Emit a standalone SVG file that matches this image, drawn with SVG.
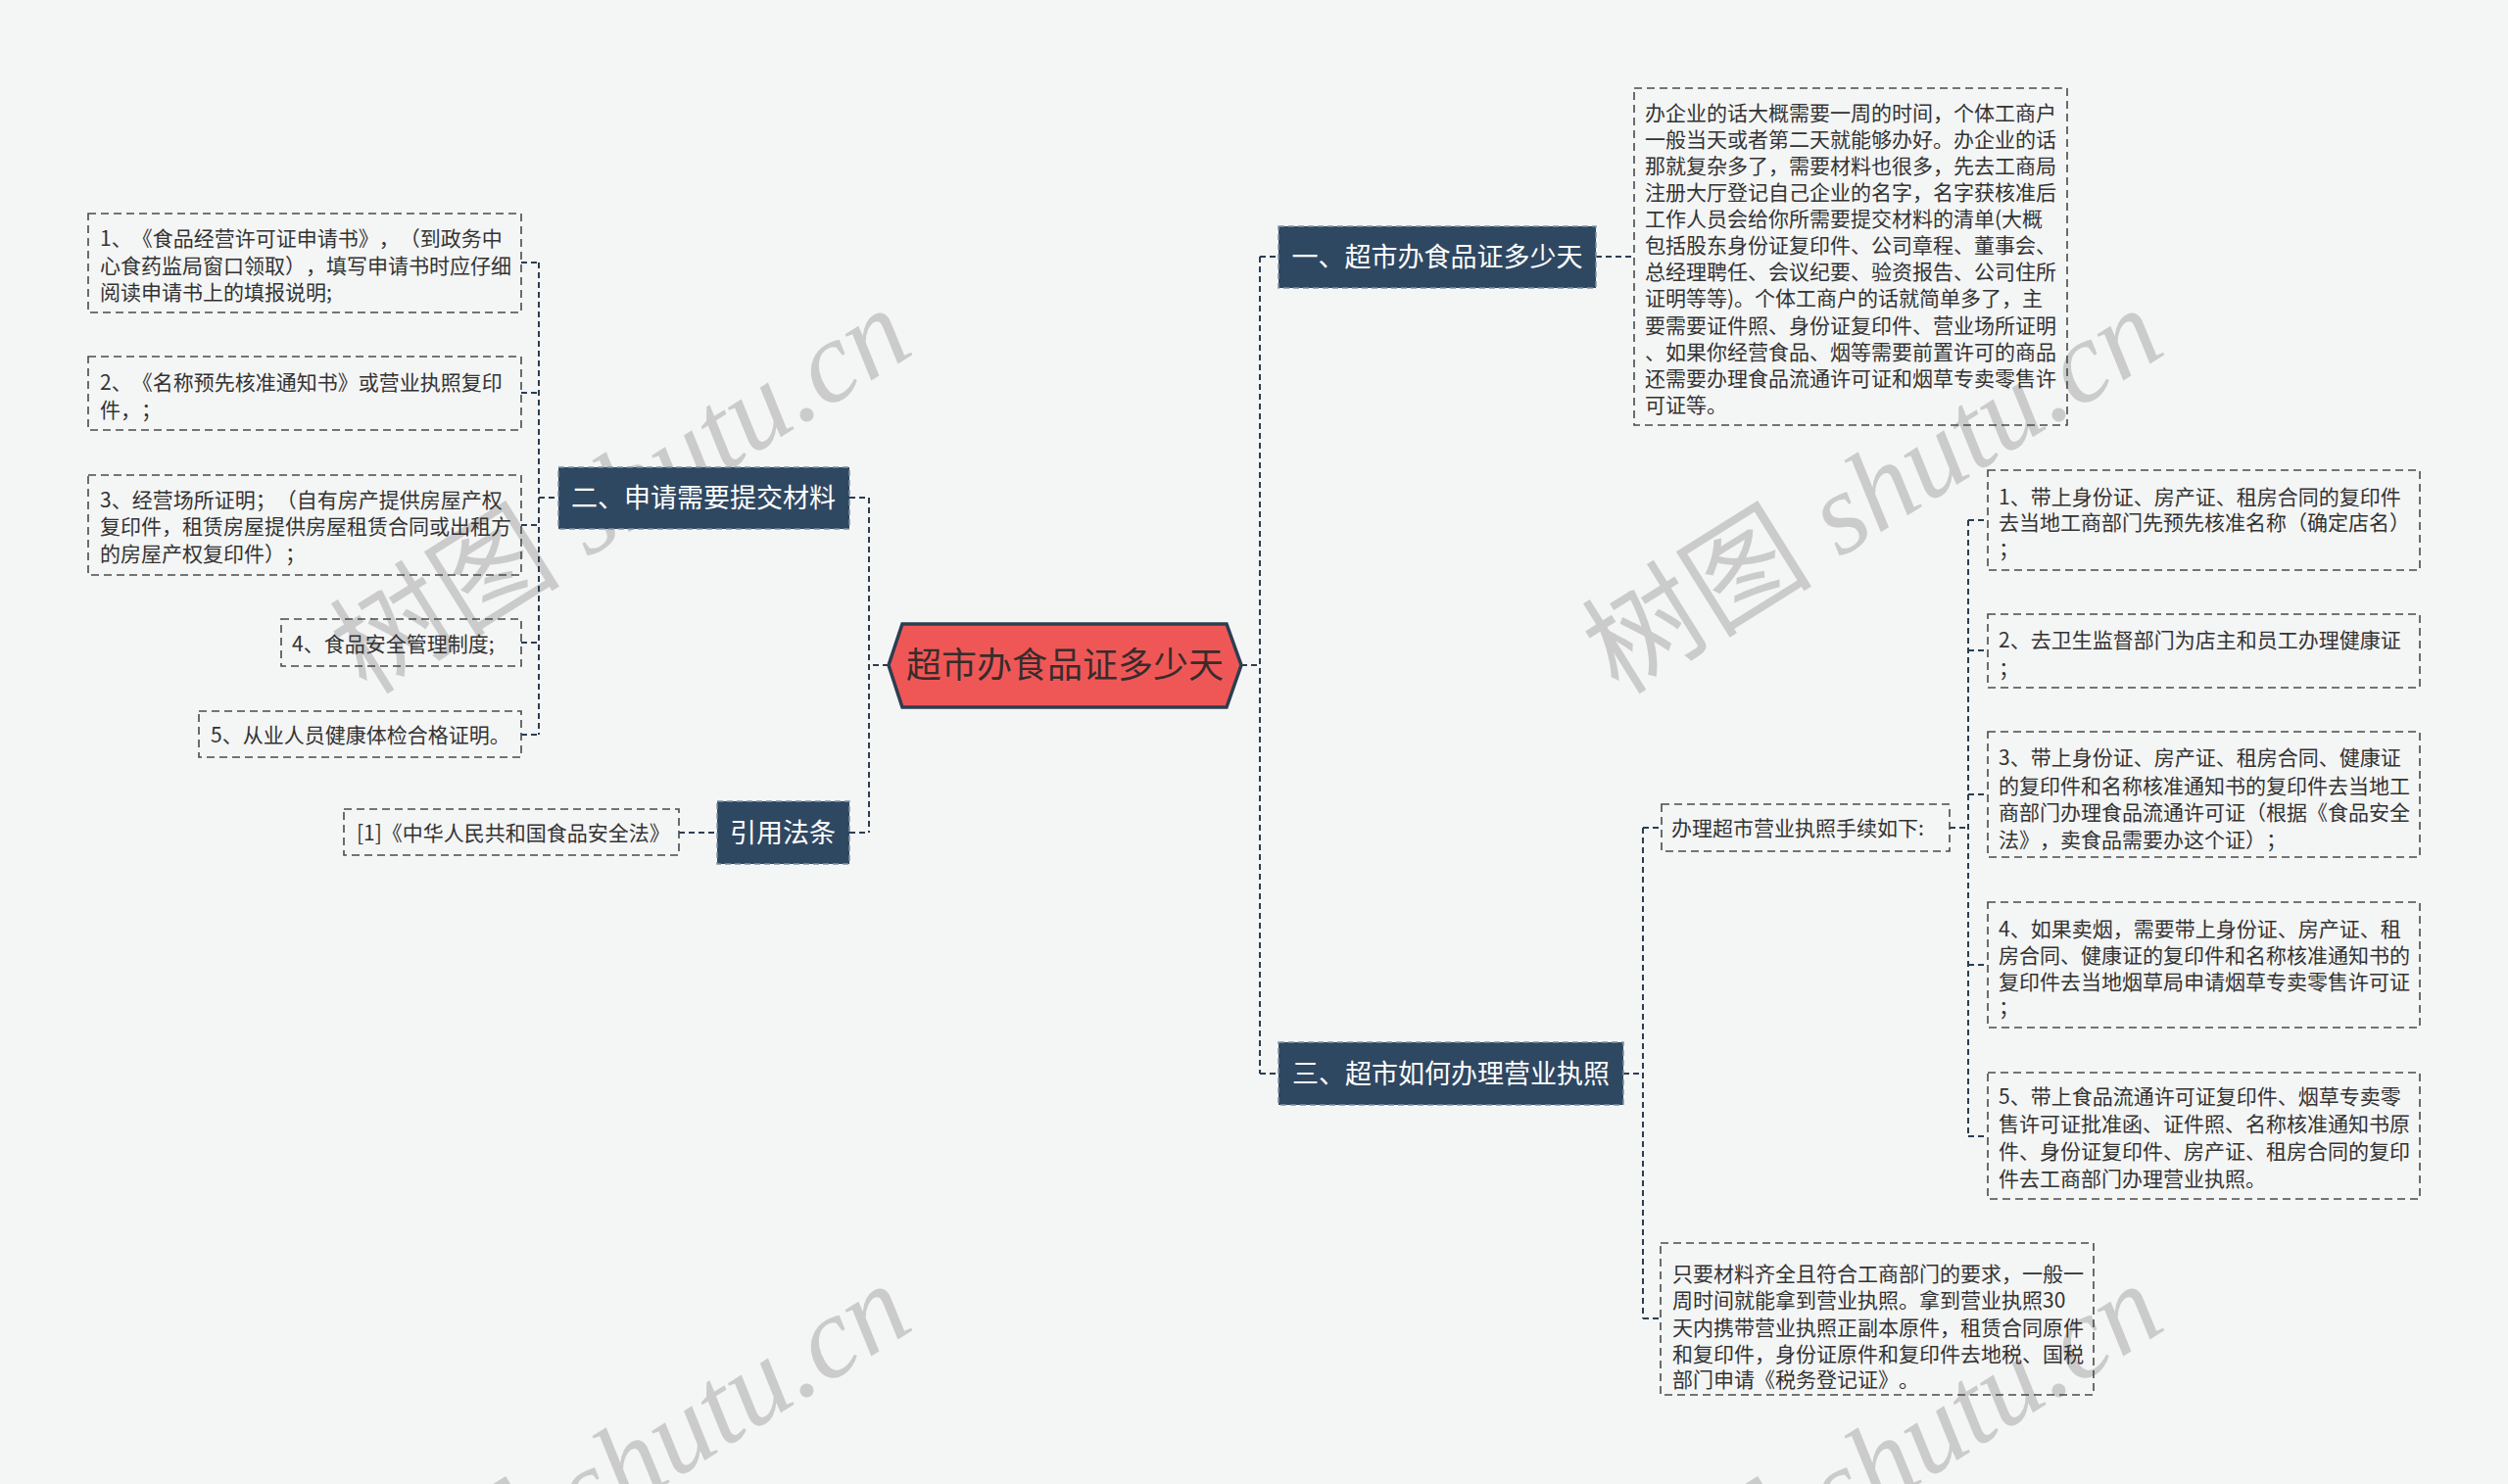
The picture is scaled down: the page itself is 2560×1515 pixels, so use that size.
<svg xmlns="http://www.w3.org/2000/svg" width="2560" height="1515" viewBox="0 0 2560 1515">
<style>
text{text-spacing-trim:space-all}
.bg{fill:#f4f5f5}
.wm{font-family:"Liberation Serif","Noto Sans CJK SC",serif;font-style:italic;font-size:118px;fill:#9a9a9a;fill-opacity:0.45}
.wmc{font-family:"Noto Sans CJK SC",sans-serif;font-style:normal}
.leaf{fill:none;stroke:#4a4a4a;stroke-width:1.6;stroke-dasharray:8 5}
.lt{font-family:"Noto Sans CJK SC","Noto Sans",sans-serif;font-size:21px;fill:#333333}
.br{fill:#2f4862;stroke:#7f91a3;stroke-width:1.5;stroke-dasharray:6 4}
.bt{font-family:"Noto Sans CJK SC","Noto Sans",sans-serif;font-size:27px;fill:#ffffff}
.root{fill:#ef5757;stroke:#2c3e50;stroke-width:3.5}
.rt{font-family:"Noto Sans CJK SC","Noto Sans",sans-serif;font-size:36px;fill:#3a2b2b}
.con{fill:none;stroke:#2c3e50;stroke-width:2;stroke-dasharray:6 4}
</style>
<rect class="bg" x="0" y="0" width="2560" height="1515"/>

<g id="watermarks">
<text class="wm" transform="translate(655,535) rotate(-32)" text-anchor="middle"><tspan class="wmc">树图</tspan> shutu.cn</text>
<text class="wm" transform="translate(1933,535) rotate(-32)" text-anchor="middle"><tspan class="wmc">树图</tspan> shutu.cn</text>
<text class="wm" transform="translate(655,1531) rotate(-32)" text-anchor="middle"><tspan class="wmc">树图</tspan> shutu.cn</text>
<text class="wm" transform="translate(1933,1531) rotate(-32)" text-anchor="middle"><tspan class="wmc">树图</tspan> shutu.cn</text>
</g>

<g id="connectors">
<path class="con" d="M907,679 H887 M887,508 V850 M867,508 H887 M867,850 H887"/>
<path class="con" d="M550,268 V750 M532,268 H550 M532,401 H550 M532,536 H550 M532,656 H550 M532,750 H550 M550,508 H570"/>
<path class="con" d="M693,850 H732"/>
<path class="con" d="M1267,679 H1286 M1286,262 V1096 M1286,262 H1305 M1286,1096 H1305"/>
<path class="con" d="M1629,262 H1668"/>
<path class="con" d="M1657,1096 H1677 M1677,845 V1346 M1677,845 H1696 M1677,1346 H1695"/>
<path class="con" d="M1990,845 H2009 M2009,531 V1160 M2009,531 H2029 M2009,664 H2029 M2009,811 H2029 M2009,985 H2029 M2009,1160 H2029"/>
</g>

<g id="root">
<polygon class="root" points="907,679 921,637 1252,637 1267,679 1252,722 921,722"/>
<text class="rt" x="1087" y="692" text-anchor="middle">超市办食品证多少天</text>
</g>

<g id="branch-2">
<rect class="br" x="570" y="477" width="297" height="63"/>
<text class="bt" x="718" y="518" text-anchor="middle">二、申请需要提交材料</text>
</g>
<g id="branch-law">
<rect class="br" x="732" y="818" width="135" height="64"/>
<text class="bt" x="799" y="860" text-anchor="middle">引用法条</text>
</g>
<g id="branch-1">
<rect class="br" x="1305" y="231" width="324" height="63"/>
<text class="bt" x="1467" y="272" text-anchor="middle">一、超市办食品证多少天</text>
</g>
<g id="branch-3">
<rect class="br" x="1305" y="1064" width="352" height="64"/>
<text class="bt" x="1481" y="1106" text-anchor="middle">三、超市如何办理营业执照</text>
</g>

<g id="leaf-l1">
<rect class="leaf" x="90" y="218" width="442" height="101"/>
<text class="lt"><tspan x="102" y="251">1、《食品经营许可证申请书》，（到政务中</tspan><tspan x="102" y="279">心食药监局窗口领取），填写申请书时应仔细</tspan><tspan x="102" y="306">阅读申请书上的填报说明;</tspan></text>
</g>
<g id="leaf-l2">
<rect class="leaf" x="90" y="364" width="442" height="75"/>
<text class="lt"><tspan x="102" y="398">2、《名称预先核准通知书》或营业执照复印</tspan><tspan x="102" y="426">件，；</tspan></text>
</g>
<g id="leaf-l3">
<rect class="leaf" x="90" y="485" width="442" height="102"/>
<text class="lt"><tspan x="102" y="518">3、经营场所证明；（自有房产提供房屋产权</tspan><tspan x="102" y="545">复印件，租赁房屋提供房屋租赁合同或出租方</tspan><tspan x="102" y="573">的房屋产权复印件）；</tspan></text>
</g>
<g id="leaf-l4">
<rect class="leaf" x="287" y="632" width="245" height="48"/>
<text class="lt" x="298" y="665">4、食品安全管理制度;</text>
</g>
<g id="leaf-l5">
<rect class="leaf" x="203" y="726" width="329" height="47"/>
<text class="lt" x="215" y="758">5、从业人员健康体检合格证明。</text>
</g>
<g id="leaf-law">
<rect class="leaf" x="351" y="826" width="342" height="47"/>
<text class="lt" x="364" y="858">[1]《中华人民共和国食品安全法》</text>
</g>

<g id="leaf-desc">
<rect class="leaf" x="1668" y="90" width="442" height="344"/>
<text class="lt">
<tspan x="1679" y="123">办企业的话大概需要一周的时间，个体工商户</tspan>
<tspan x="1679" y="150">一般当天或者第二天就能够办好。办企业的话</tspan>
<tspan x="1679" y="177">那就复杂多了，需要材料也很多，先去工商局</tspan>
<tspan x="1679" y="204">注册大厅登记自己企业的名字，名字获核准后</tspan>
<tspan x="1679" y="231">工作人员会给你所需要提交材料的清单(大概</tspan>
<tspan x="1679" y="258">包括股东身份证复印件、公司章程、董事会、</tspan>
<tspan x="1679" y="285">总经理聘任、会议纪要、验资报告、公司住所</tspan>
<tspan x="1679" y="312">证明等等)。个体工商户的话就简单多了，主</tspan>
<tspan x="1679" y="340">要需要证件照、身份证复印件、营业场所证明</tspan>
<tspan x="1679" y="367">、如果你经营食品、烟等需要前置许可的商品</tspan>
<tspan x="1679" y="394">还需要办理食品流通许可证和烟草专卖零售许</tspan>
<tspan x="1679" y="421">可证等。</tspan>
</text>
</g>

<g id="leaf-proc">
<rect class="leaf" x="1696" y="821" width="294" height="48"/>
<text class="lt" x="1706" y="853">办理超市营业执照手续如下:</text>
</g>

<g id="leaf-r1">
<rect class="leaf" x="2029" y="480" width="441" height="102"/>
<text class="lt"><tspan x="2040" y="515">1、带上身份证、房产证、租房合同的复印件</tspan><tspan x="2040" y="541">去当地工商部门先预先核准名称（确定店名）</tspan><tspan x="2040" y="568">；</tspan></text>
</g>
<g id="leaf-r2">
<rect class="leaf" x="2029" y="627" width="441" height="75"/>
<text class="lt"><tspan x="2040" y="661">2、去卫生监督部门为店主和员工办理健康证</tspan><tspan x="2040" y="690">；</tspan></text>
</g>
<g id="leaf-r3">
<rect class="leaf" x="2029" y="747" width="441" height="128"/>
<text class="lt"><tspan x="2040" y="781">3、带上身份证、房产证、租房合同、健康证</tspan><tspan x="2040" y="810">的复印件和名称核准通知书的复印件去当地工</tspan><tspan x="2040" y="837">商部门办理食品流通许可证（根据《食品安全</tspan><tspan x="2040" y="865">法》，卖食品需要办这个证）；</tspan></text>
</g>
<g id="leaf-r4">
<rect class="leaf" x="2029" y="921" width="441" height="128"/>
<text class="lt"><tspan x="2040" y="956">4、如果卖烟，需要带上身份证、房产证、租</tspan><tspan x="2040" y="983">房合同、健康证的复印件和名称核准通知书的</tspan><tspan x="2040" y="1010">复印件去当地烟草局申请烟草专卖零售许可证</tspan><tspan x="2040" y="1036">；</tspan></text>
</g>
<g id="leaf-r5">
<rect class="leaf" x="2029" y="1095" width="441" height="129"/>
<text class="lt"><tspan x="2040" y="1127">5、带上食品流通许可证复印件、烟草专卖零</tspan><tspan x="2040" y="1155">售许可证批准函、证件照、名称核准通知书原</tspan><tspan x="2040" y="1183">件、身份证复印件、房产证、租房合同的复印</tspan><tspan x="2040" y="1211">件去工商部门办理营业执照。</tspan></text>
</g>
<g id="leaf-final">
<rect class="leaf" x="1695" y="1269" width="442" height="155"/>
<text class="lt"><tspan x="1707" y="1308">只要材料齐全且符合工商部门的要求，一般一</tspan><tspan x="1707" y="1335">周时间就能拿到营业执照。拿到营业执照30</tspan><tspan x="1707" y="1363">天内携带营业执照正副本原件，租赁合同原件</tspan><tspan x="1707" y="1390">和复印件，身份证原件和复印件去地税、国税</tspan><tspan x="1707" y="1416">部门申请《税务登记证》。</tspan></text>
</g>
</svg>
